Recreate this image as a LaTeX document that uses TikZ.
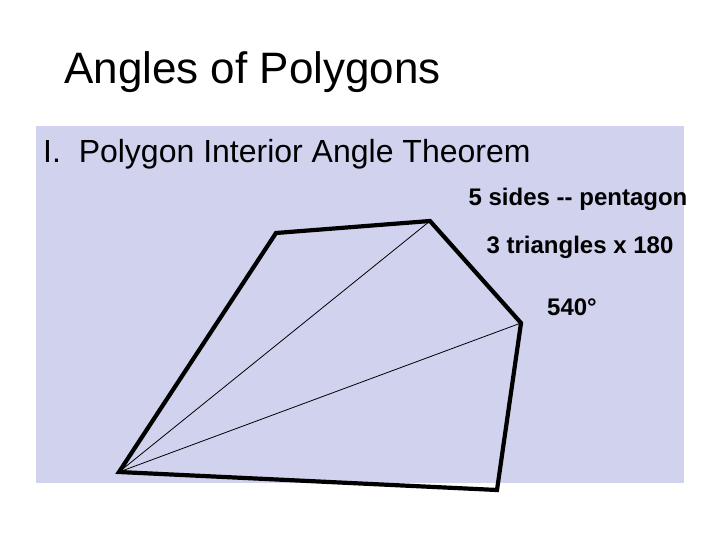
\documentclass[tikz,border=0pt]{standalone}
\usepackage{fontspec}
\setmainfont{Liberation Sans}
\definecolor{slideblue}{RGB}{209,211,238}

\begin{document}
\begin{tikzpicture}[x=1pt,y=-1pt,
  side/.style={line width=4.2pt, line join=miter},
  diag/.style={line width=0.8pt},
  note/.style={font=\bfseries\fontsize{24}{28}\selectfont, inner sep=0pt}]
\useasboundingbox (0,0) rectangle (720,540);
\fill [slideblue] (36,126) rectangle (684,483);
\node [anchor=base west, inner sep=0pt, font=\fontsize{44}{52}\selectfont] (title) at (64,84) {Angles of Polygons};
\node [anchor=base west, inner sep=0pt, font=\fontsize{32}{38}\selectfont] (thm) at (43,163) {I.\ \ Polygon Interior Angle Theorem};
\coordinate (A) at (119,472);
\coordinate (B) at (276,233);
\coordinate (C) at (430,221);
\coordinate (D) at (521,323);
\coordinate (E) at (497,490);
\draw [diag] (A) -- (C);
\draw [diag] (A) -- (D);
\draw [side] (A) -- (B) -- (C) -- (D) -- (E) -- cycle;
\node [note] (sides) at (578,199) {5 sides -{}- pentagon};
\node [note] (tri) at (580,247) {3 triangles x 180};
\node [note] (sum) at (572,307) {540°};
\end{tikzpicture}
\end{document}
